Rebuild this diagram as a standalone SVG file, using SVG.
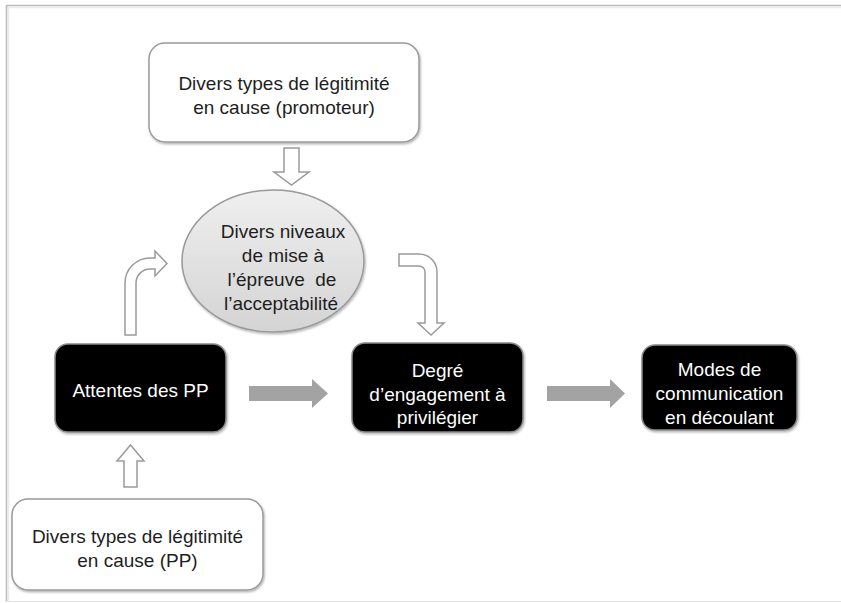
<svg xmlns="http://www.w3.org/2000/svg" width="841" height="603" viewBox="0 0 841 603">
<defs>
<linearGradient id="eg" x1="0" y1="0" x2="0" y2="1">
<stop offset="0" stop-color="#efefef"/>
<stop offset="1" stop-color="#d4d4d4"/>
</linearGradient>
<filter id="sh" x="-10%" y="-10%" width="130%" height="130%">
<feDropShadow dx="1" dy="1.5" stdDeviation="1.2" flood-color="#000" flood-opacity="0.3"/>
</filter>
</defs>
<style>
text{font-family:"Liberation Sans",Arial,sans-serif;font-size:19px;text-anchor:middle}
.dark{fill:#1e1e1e}
.light{fill:#ffffff}
.wbox{fill:#ffffff;stroke:#9a9a9a;stroke-width:1.5}
.bbox{fill:#000000;stroke:#8a8a8a;stroke-width:1.5}
.hollow{fill:#ffffff;stroke:#9a9a9a;stroke-width:1.5;stroke-linejoin:miter}
.solid{fill:#a3a3a3;stroke:none}
</style>
<rect x="0" y="0" width="841" height="603" fill="#ffffff"/>
<g id="frame" fill="none">
<line x1="6" y1="5.5" x2="841" y2="5.5" stroke="#bdbdbd" stroke-width="1.6"/>
<line x1="7" y1="7.5" x2="841" y2="7.5" stroke="#ececec" stroke-width="1.5"/>
<line x1="6.5" y1="5" x2="6.5" y2="602" stroke="#bdbdbd" stroke-width="1.6"/>
<line x1="8.5" y1="7" x2="8.5" y2="602" stroke="#ececec" stroke-width="1.5"/>
<line x1="6" y1="601.5" x2="841" y2="601.5" stroke="#e2e2e2" stroke-width="1"/>
</g>
<g id="connectors">
<path class="hollow" d="M284,148 L299,148 L299,172 L309,172 L291.5,185 L274,172 L284,172 Z"/>
<path class="hollow" d="M124,487 L124,461 L117,461 L130.5,445 L144,461 L137,461 L137,487 Z"/>
<path class="hollow" d="M125,335 L125,283 A25,25 0 0 1 150,258 L155,258 L155,251 L167,263.5 L155,276 L155,269 L150,269 A14,14 0 0 0 136,283 L136,335 Z"/>
<path class="hollow" d="M399,254 L419,254 A18,18 0 0 1 437,272 L437,323 L444,323 L431,335 L418,323 L425,323 L425,272 A6,6 0 0 0 419,266 L399,266 Z"/>
<path class="solid" d="M249,386 L312,386 L312,379 L328,393.5 L312,408 L312,401 L249,401 Z"/>
<path class="solid" d="M547,386 L610,386 L610,379 L625,393.5 L610,408 L610,401 L547,401 Z"/>
</g>
<g id="n_top">
<rect class="wbox" x="149" y="43" width="270" height="99" rx="16" filter="url(#sh)"/>
<text class="dark" x="284" y="90">Divers types de légitimité</text>
<text class="dark" x="284" y="114">en cause (promoteur)</text>
</g>
<g id="n_ellipse">
<ellipse cx="273" cy="261" rx="91" ry="71" fill="url(#eg)" stroke="#9a9a9a" stroke-width="1.5" filter="url(#sh)"/>
<text class="dark" x="283" y="238">Divers niveaux</text>
<text class="dark" x="283" y="262">de mise à</text>
<text class="dark" x="282" y="286" xml:space="preserve">l’épreuve  de</text>
<text class="dark" x="281" y="310">l’acceptabilité</text>
</g>
<g id="n_attentes">
<rect class="bbox" x="55" y="344" width="171" height="88" rx="13" filter="url(#sh)"/>
<text class="light" x="140.5" y="397">Attentes des PP</text>
</g>
<g id="n_degre">
<rect class="bbox" x="352" y="343" width="171" height="89" rx="13" filter="url(#sh)"/>
<text class="light" x="437.5" y="377">Degré</text>
<text class="light" x="437.5" y="401">d’engagement à</text>
<text class="light" x="437.5" y="424">privilégier</text>
</g>
<g id="n_modes">
<rect class="bbox" x="642" y="345" width="155" height="85" rx="13" filter="url(#sh)"/>
<text class="light" x="719.5" y="376">Modes de</text>
<text class="light" x="719.5" y="400">communication</text>
<text class="light" x="719.5" y="424">en découlant</text>
</g>
<g id="n_bottom">
<rect class="wbox" x="12" y="499" width="251" height="91" rx="16" filter="url(#sh)"/>
<text class="dark" x="137.5" y="543">Divers types de légitimité</text>
<text class="dark" x="137.5" y="567">en cause (PP)</text>
</g>
</svg>
